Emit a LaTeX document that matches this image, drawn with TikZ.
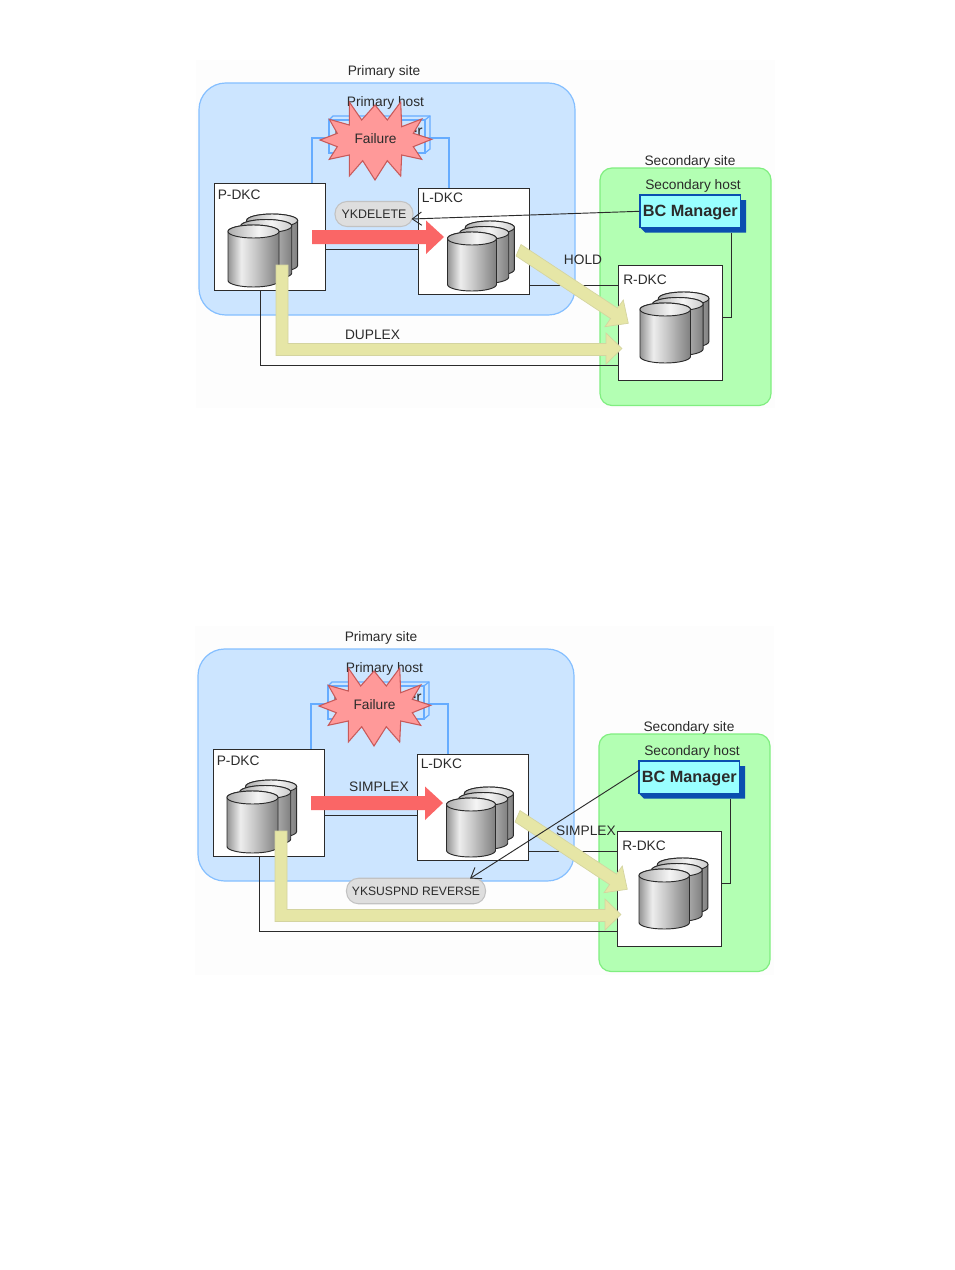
\documentclass[tikz,border=0pt]{standalone}
\usepackage{fontspec}
\setmainfont{Liberation Sans}
\usetikzlibrary{arrows.meta,calc}
\definecolor{ink}{HTML}{2B2B2B}
\definecolor{pagetint}{HTML}{FDFDFD}
\definecolor{bluefill}{HTML}{CCE5FF}
\definecolor{blueedge}{HTML}{85BFFF}
\definecolor{blueline}{HTML}{66ACFF}
\definecolor{greenfill}{HTML}{B3FFB3}
\definecolor{greenedge}{HTML}{80EE80}
\definecolor{redarrow}{HTML}{FA6666}
\definecolor{yellowarrow}{HTML}{E6E6A6}
\definecolor{yellowedge}{HTML}{D4D4A0}
\definecolor{burstfill}{HTML}{FF9999}
\definecolor{burstedge}{HTML}{C85A5A}
\definecolor{pillfill}{HTML}{DEDEDE}
\definecolor{pilledge}{HTML}{C2C2C2}
\definecolor{bcfill}{HTML}{99FFFF}
\definecolor{bcedge}{HTML}{0A4FB0}
\pgfdeclarehorizontalshading{cylbody}{100bp}{color(0bp)=(black!42);color(25bp)=(black!42);color(38bp)=(black!7);color(50bp)=(black!20);color(75bp)=(black!50);color(100bp)=(black!50)}
\pgfdeclarehorizontalshading{cyltop}{100bp}{color(0bp)=(black!32);color(25bp)=(black!32);color(55bp)=(black!4);color(75bp)=(black!20);color(100bp)=(black!20)}
\tikzset{
  px/.style={x=0.75pt,y=-0.75pt},
  txt/.style={inner sep=0pt,anchor=base,text=ink,font=\fontsize{10.3}{12}\selectfont},
  txtl/.style={txt,anchor=base west},
  dkc/.style={draw=ink,fill=white,line width=0.75pt,inner sep=0pt},
  wire/.style={draw=ink,line width=0.65pt},
  hostwire/.style={draw=blueline,line width=0.9pt},
  site/.style={rounded corners=#1},
  pill/.style={draw=pilledge,fill=pillfill,line width=0.8pt,rounded corners=9pt,inner sep=0pt,text=ink},
  cmd/.style={draw=ink,line width=0.7pt,-{Straight Barb[length=7pt,width=10pt]}},
  cylpath/.style={draw=ink,line width=0.7pt},
}
% left x, top y of ellipse box, width, height
\newcommand\onecyl[4]{%
  \path[cylpath,shading=cylbody,shading angle=0] (#1,{#2+6.5}) -- (#1,{#2+#4-6.5})
     arc[start angle=180,end angle=360,x radius=#3/2*0.75pt,y radius=6.5*0.75pt] -- ({#1+#3},{#2+6.5})
     arc[start angle=0,end angle=180,x radius=#3/2*0.75pt,y radius=6.5*0.75pt] -- cycle;
  \path[cylpath,shading=cyltop,shading angle=0] ({#1+#3/2},{#2+6.5}) ellipse[x radius=#3/2*0.75pt,y radius=6.5*0.75pt];
}
\newcommand\disks[4]{%
  \onecyl{#1+0.365*#3}{#2-11}{#3}{#4-4}
  \onecyl{#1+0.25*#3}{#2-5.5}{#3}{#4-2}
  \onecyl{#1}{#2}{#3}{#4}
}
\newcommand\sharedparts{%
  \path[site=20pt,fill=bluefill,draw=blueedge,line width=0.9pt] (199,83) rectangle (575,315);
  \path[site=9pt,fill=greenfill,draw=greenedge,line width=0.9pt] (600,168) rectangle (771,405.5);
  \node[txt] (hostlabel) at (385.5,106.7) {Primary host};
  \node[txt] (seclabel) at (690,165) {Secondary site};
  \node[txt] (hostlabelb) at (693,189) {Secondary host};
  % failed primary host
  \path[draw=blueline,fill=bluefill,line width=0.9pt] (329,120) -- (333,116) -- (430,116) -- (430,149) -- (425,153) -- (329,153) -- cycle;
  \node[draw=blueline,fill=bluefill,line width=0.9pt,minimum width=96*0.75pt,minimum height=33*0.75pt,inner sep=0pt] (pbc) at (377,136.5) {};
  \draw[blueline,line width=0.9pt] (pbc.north east) -- (430,116);
  \node[txt,font=\fontsize{11.8}{13}\selectfont] (pbctext) at (378.5,136) {BC Manager};
  \node[dkc,minimum width=111*0.75pt,minimum height=107*0.75pt] (pdkc) at (270,236.5) {};
  \node[dkc,minimum width=111*0.75pt,minimum height=106*0.75pt] (ldkc) at (473.5,241) {};
  \node[dkc,minimum width=104*0.75pt,minimum height=115*0.75pt] (rdkc) at (670.5,322.5) {};
  \coordinate (hostleft) at (312,138);
  \coordinate (hostright) at (449,138);
  \draw[hostwire] (pdkc.north -| hostleft) -- (hostleft) -- (pbc.west |- hostleft);
  \draw[hostwire] (ldkc.north -| hostright) -- (hostright) -- (pbc.east |- hostright);
  \coordinate (plrow) at (0,249);
  \coordinate (lrrow) at (0,285);
  \coordinate (prrow) at (260,365);
  \draw[wire] (pdkc.east |- plrow) -- (ldkc.west |- plrow);
  \draw[wire] (ldkc.east |- lrrow) -- (rdkc.west |- lrrow);
  \draw[wire] (pdkc.south -| prrow) -- (prrow) -- (rdkc.west |- prrow);
  \node[txtl] (ptext) at (217.5,199.3) {P-DKC};
  \node[txtl] (ltext) at (421.5,202) {L-DKC};
  \node[txtl] (rtext) at (623,284) {R-DKC};
  \disks{228}{225}{51}{62}
  \disks{447.5}{232}{49}{59}
  \disks{640}{303}{50.5}{60}
  % secondary host
  \path[fill=bcedge] (640,200) -- (645,200) -- (746,200) -- (746,232.5) -- (645,232.5) -- (640,227.5) -- cycle;
  \node[draw=bcedge,fill=bcfill,line width=0.9pt,minimum width=100.5*0.75pt,minimum height=32.5*0.75pt,inner sep=0pt] (bc) at (690.3,211.3) {};
  \node[txt,font=\bfseries\fontsize{12.2}{14}\selectfont] (bctext) at (690.3,216.7) {BC Manager};
  \coordinate (bcrow) at (731,317);
  \draw[wire] (731,232.5) -- (bcrow) -- (rdkc.east |- bcrow);
  % copy arrows
  \path[fill=redarrow] (312,230) -- (426,230) -- (426,220.5) -- (444,237) -- (426,254) -- (426,244) -- (312,244) -- cycle;
  \path[fill=yellowarrow,draw=yellowedge,line width=0.5pt] (276,265) -- (288,265) -- (288,343.5) -- (606,343.5) -- (606,333) -- (622,348.5) -- (606,364) -- (606,355.5) -- (276,355.5) -- cycle;
  \path[fill=yellowarrow,draw=yellowedge,line width=0.5pt] (521,244.5) -- (617.4,308.1) -- (623.3,300) -- (628.3,323.3) -- (605,326.7) -- (610.6,318.5) -- (516,256) -- cycle;
  % failure
  \path[fill=burstfill,draw=burstedge,line width=0.8pt]
     (349.3,102) -- (361.7,120) -- (375,105) -- (387.3,120) -- (400.7,102) -- (401.7,126.7) -- (421.7,119)
     -- (413.3,133.3) -- (431.7,139.3) -- (413.3,146.7) -- (421.7,159.3) -- (401.7,155) -- (400.7,176)
     -- (387.3,160.7) -- (375,180) -- (362.7,160.7) -- (349.3,176) -- (349.3,155) -- (329.3,159.3)
     -- (337.3,146.7) -- (320,140) -- (337.3,133.3) -- (329.3,119.3) -- (349.3,125) -- cycle;
  \node[txt] (failtext) at (375.5,143) {Failure};
}
\begin{document}
\begin{tikzpicture}[px]
\useasboundingbox (0,0) rectangle (954,1270);
\fill[white] (0,0) rectangle (954,1270);
\fill[pagetint] (196,60) rectangle (775,408);
\fill[pagetint] (195,626) rectangle (774,975);
\begin{scope}[name prefix=a-]
  \node[txt] (sitelabel) at (384,75) {Primary site};
  \sharedparts
  \node[txt] (hold) at (583,264) {HOLD};
  \node[txt] (duplex) at (372.5,339) {DUPLEX};
  \node[pill,minimum width=78*0.75pt,minimum height=25*0.75pt,font=\fontsize{9.3}{11}\selectfont] (cmd) at (374,214) {YKDELETE};
  \coordinate (cmdend) at (411.5,219);
  \draw[cmd] (bc.west) -- (cmdend);
\end{scope}
\begin{scope}[shift={(-1,566)},name prefix=b-]
  \node[txt] (sitelabel) at (382,75) {Primary site};
  \sharedparts
  \node[txt] (simplexa) at (380,225.7) {SIMPLEX};
  \node[txt] (simplexb) at (587,269) {SIMPLEX};
  \node[pill,minimum width=139*0.75pt,minimum height=25.5*0.75pt,font=\fontsize{9.1}{11}\selectfont] (cmd) at (417,325) {YKSUSPND REVERSE};
  \coordinate (cmdstart) at (640.5,204);
  \coordinate (cmdend) at (471,312.5);
  \draw[cmd] (cmdstart) -- (cmdend);
\end{scope}
\end{tikzpicture}
\end{document}
